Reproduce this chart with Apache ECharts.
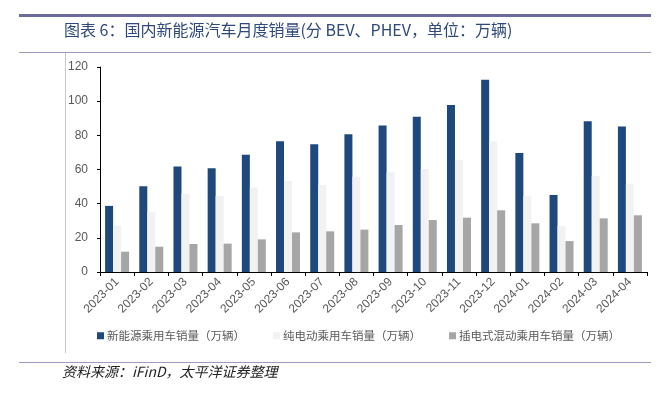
<!DOCTYPE html>
<html>
<head>
<meta charset="utf-8">
<script src="https://cdn.jsdelivr.net/npm/echarts@6/dist/echarts.min.js"></script>
<style>
html,body{margin:0;padding:0;background:#fff;}
#chart{width:666px;height:395px;}
</style>
</head>
<body>
<div id="chart"></div>
<script>
var categories = ['2023-01','2023-02','2023-03','2023-04','2023-05','2023-06','2023-07','2023-08','2023-09','2023-10','2023-11','2023-12','2024-01','2024-02','2024-03','2024-04'];
var nevSales = [38.7, 50.2, 61.7, 60.7, 68.7, 76.6, 74.8, 80.6, 85.7, 90.9, 97.8, 112.6, 69.7, 45.1, 88.2, 85.1];
var bevSales = [27.1, 35.1, 45.7, 44.5, 49.4, 53.3, 50.9, 55.8, 58.4, 60.3, 65.6, 76.5, 44.5, 26.9, 56.2, 51.7];
var phevSales = [11.9, 14.8, 16.4, 16.6, 19.1, 23.2, 23.8, 24.8, 27.5, 30.4, 31.8, 36.1, 28.5, 18.1, 31.4, 33.2];
var seriesNames = ['新能源乘用车销量（万辆）', '纯电动乘用车销量（万辆）', '插电式混动乘用车销量（万辆）'];
var yTicks = [0, 20, 40, 60, 80, 100, 120];

var chart = echarts.init(document.getElementById('chart'), null, {renderer: 'canvas'});
var lineColor = '#9a9ac2';
var option = {
  animation: false,
  backgroundColor: '#ffffff',
  title: {
    text: '图表 6：国内新能源汽车月度销量(分 BEV、PHEV，单位：万辆)',
    left: 64, top: 22, padding: 0,
    textStyle: {fontFamily: 'Noto Sans CJK SC', fontSize: 16, fontWeight: 'normal', color: '#2e4a7a', lineHeight: 16}
  },
  graphic: [
    {type: 'rect', shape: {x: 19, y: 14, width: 632, height: 3}, style: {fill: '#6b6b9e'}},
    {type: 'rect', shape: {x: 19, y: 52, width: 632, height: 1}, style: {fill: lineColor}},
    {type: 'rect', shape: {x: 65, y: 53, width: 1, height: 300}, style: {fill: '#c8c8c8'}},
    {type: 'rect', shape: {x: 19, y: 362, width: 632, height: 1}, style: {fill: lineColor}},
    {type: 'text', left: 62, top: 365, style: {text: '资料来源：iFinD，太平洋证券整理', font: 'italic 14px "Noto Sans CJK SC"', fill: '#222'}}
  ],
  legend: {
    data: seriesNames,
    left: 97, top: 330, padding: 0,
    itemWidth: 7, itemHeight: 7, itemGap: 28,
    icon: 'rect',
    textStyle: {fontFamily: 'Noto Sans CJK SC', fontSize: 11.5, color: '#595959', padding: [0,0,0,-2]}
  },
  grid: {left: 100, right: 19, top: 67, bottom: 123, containLabel: false},
  xAxis: {
    type: 'category',
    data: categories,
    axisLine: {lineStyle: {color: '#000', width: 1}},
    axisTick: {show: true, length: 4, lineStyle: {color: '#000'}},
    axisLabel: {interval: 0, rotate: 45, color: '#595959', fontFamily: 'Liberation Sans', fontSize: 12, margin: 8}
  },
  yAxis: {
    type: 'value',
    min: yTicks[0], max: yTicks[yTicks.length - 1], interval: 20,
    axisLine: {show: true, lineStyle: {color: '#000', width: 1}},
    axisTick: {show: true, length: 3, lineStyle: {color: '#000'}},
    axisLabel: {color: '#595959', fontFamily: 'Liberation Sans', fontSize: 12, margin: 12},
    splitLine: {show: false}
  },
  series: [
    {name: seriesNames[0], type: 'bar', data: nevSales, barWidth: 8, barGap: '0%', itemStyle: {color: '#1f497d'}},
    {name: seriesNames[1], type: 'bar', data: bevSales, barWidth: 8, barGap: '0%', itemStyle: {color: '#f2f2f2'}},
    {name: seriesNames[2], type: 'bar', data: phevSales, barWidth: 8, barGap: '0%', itemStyle: {color: '#a6a6a6'}}
  ]
};
chart.setOption(option);
</script>
</body>
</html>
